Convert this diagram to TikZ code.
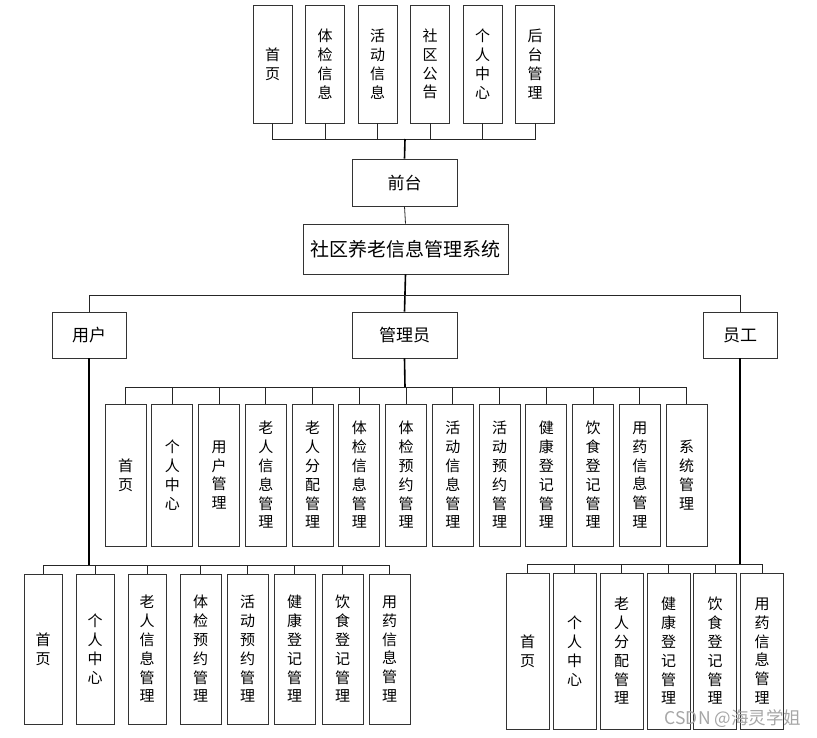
\documentclass[tikz,border=0pt]{standalone}
\usepackage{fontspec}
\setmainfont{Noto Sans CJK SC}
\tikzstyle{vbox} = [rectangle, draw=black!80, line width=0.8pt, inner sep=0pt, align=center, font=\fontsize{15}{18.8}\selectfont]
\tikzstyle{hbox} = [rectangle, draw=black!80, line width=0.8pt, inner sep=0pt, text centered, font=\fontsize{17}{20}\selectfont]
\tikzstyle{link} = [draw=black!85, line width=0.8pt]
\tikzstyle{trunk} = [draw=black, line width=1.6pt]

\begin{document}
\begin{tikzpicture}[x=1pt, y=-1pt]
\useasboundingbox (0,0) rectangle (817,737);

%junctions
\coordinate (topbus) at (405,139);
\coordinate (rolebus) at (405,295);
\coordinate (adminbus) at (405,387);
\coordinate (userbus) at (89,565);
\coordinate (staffbus) at (740,564);

%front row
\foreach \x/\t [count=\i] in {272.5/{首\\页}, 325/{体\\检\\信\\息}, 377.5/{活\\动\\信\\息}, 430/{社\\区\\公\\告}, 482.5/{个\\人\\中\\心}, 535/{后\\台\\管\\理}}
  \node (f\i) [vbox, minimum width=39pt, minimum height=118pt] at (\x,64) {\t};

%main column
\node (QT) [hbox, minimum width=105pt, minimum height=47pt] at (404.5,182.5) {前台};
\node (SYS) [hbox, minimum width=205pt, minimum height=50pt, font=\fontsize{19}{22}\selectfont] at (405.5,249) {社区养老信息管理系统};

%roles
\node (YH) [hbox, minimum width=74pt, minimum height=46pt] at (89,335) {用户};
\node (GLY) [hbox, minimum width=105pt, minimum height=46pt] at (404.5,335) {管理员};
\node (YG) [hbox, minimum width=74pt, minimum height=46pt] at (740,335) {员工};

%admin row
\foreach \t [count=\i] in {{首\\页}, {个\\人\\中\\心}, {用\\户\\管\\理}, {老\\人\\信\\息\\管\\理}, {老\\人\\分\\配\\管\\理}, {体\\检\\信\\息\\管\\理}, {体\\检\\预\\约\\管\\理}, {活\\动\\信\\息\\管\\理}, {活\\动\\预\\约\\管\\理}, {健\\康\\登\\记\\管\\理}, {饮\\食\\登\\记\\管\\理}, {用\\药\\信\\息\\管\\理}, {系\\统\\管\\理}}
  \node (a\i) [vbox, minimum width=41pt, minimum height=142pt] at ({125.5+46.75*(\i-1)},475) {\t};

%user row
\foreach \x/\w/\t [count=\i] in {43/38/{首\\页}, 95/38/{个\\人\\中\\心}, 147/38/{老\\人\\信\\息\\管\\理}, 200.5/41/{体\\检\\预\\约\\管\\理}, 247.5/41/{活\\动\\预\\约\\管\\理}, 294.5/41/{健\\康\\登\\记\\管\\理}, 342.5/41/{饮\\食\\登\\记\\管\\理}, 389.5/41/{用\\药\\信\\息\\管\\理}}
  \node (u\i) [vbox, minimum width=\w pt, minimum height=150pt] at (\x,649) {\t};

%staff row
\foreach \x/\t [count=\i] in {527.5/{首\\页}, 574.5/{个\\人\\中\\心}, 621.5/{老\\人\\分\\配\\管\\理}, 668.5/{健\\康\\登\\记\\管\\理}, 715/{饮\\食\\登\\记\\管\\理}, 762/{用\\药\\信\\息\\管\\理}}
  \node (s\i) [vbox, minimum width=43pt, minimum height=156pt] at (\x,651) {\t};

%connectors
\foreach \i in {1,...,6}
  \draw [link] (f\i.south) |- (topbus);
\draw [trunk] (topbus) -- (QT.north);
\draw [link] (QT.south) -- (SYS.north);
\draw [trunk] (SYS.south) -- (GLY.north);
\draw [link] (YH.north) |- (rolebus);
\draw [link] (YG.north) |- (rolebus);
\draw [trunk] (GLY.south) -- (adminbus);
\foreach \i in {1,...,13}
  \draw [link] (a\i.north) |- (adminbus);
\draw [trunk] (YH.south) -- (userbus);
\foreach \i in {1,...,8}
  \draw [link] (u\i.north) |- (userbus);
\draw [trunk] (YG.south) -- (staffbus);
\foreach \i in {1,...,6}
  \draw [link] (s\i.north) |- (staffbus);

%watermark
\node (wm) [text=black!35, font=\fontsize{17.5}{20}\selectfont] at (733,719) {CSDN @海灵学姐};

\end{tikzpicture}
\end{document}
